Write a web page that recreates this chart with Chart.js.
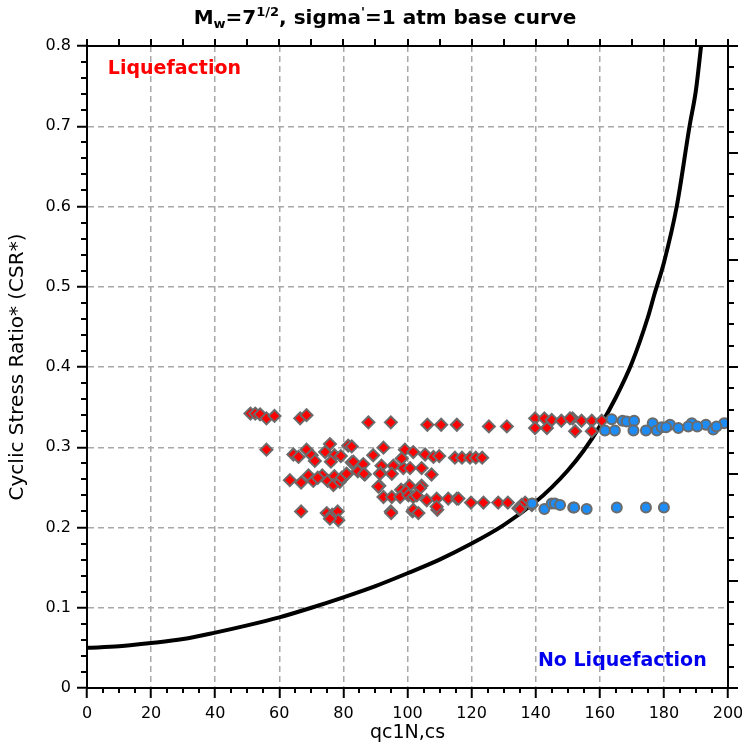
<!DOCTYPE html>
<html>
<head>
<meta charset="utf-8">
<script src="https://cdn.jsdelivr.net/npm/chart.js@4.4.0/dist/chart.umd.min.js"></script>
<style>
  html, body { margin: 0; padding: 0; background: #fff; }
  #wrap { position: relative; width: 742px; height: 744px; }
  #title {
    position: absolute; top: 5px; left: 0; width: 770px; text-align: center;
    font: bold 20px "DejaVu Sans", Verdana, sans-serif; color: #000; line-height: 24px;
  }
  #title sub, #title sup { font-size: 13px; line-height: 0; }
  #title sub { vertical-align: -4px; }
  #title sup { vertical-align: 8px; }
</style>
</head>
<body>
<div id="wrap">
  <canvas id="chart" width="742" height="744"></canvas>
  <div id="title">M<sub>w</sub>=7<sup>1/2</sup>, sigma<sup>'</sup>=1 atm base curve</div>
</div>
<script>
const FONT = '"DejaVu Sans", Verdana, sans-serif';

// base curve
const curveQc  = [0, 10, 20, 30, 40, 50, 60, 70, 80, 90, 100, 110, 120, 130, 140, 145, 150, 155, 160, 165, 170, 175, 177, 180, 184, 188, 190, 191.6];
const curveCsr = [0.050, 0.052, 0.056, 0.061, 0.069, 0.078, 0.088, 0.100, 0.113, 0.127, 0.143, 0.160, 0.180, 0.203, 0.232, 0.250, 0.271, 0.296, 0.326, 0.362, 0.405, 0.462, 0.490, 0.530, 0.600, 0.700, 0.745, 0.800];

// liquefied cases (red diamonds)
const liqQc = [
  51, 52.5, 54, 56, 58.5, 66.5, 68.5, 56,
  64.4, 66, 68.5, 70.1, 71.1, 74.3, 75.8, 77.2, 79.2, 76.1, 81.5, 82.6,
  63.3, 66.8, 69.1, 70.6, 73.4, 75.1, 77.2, 76.9, 78.9, 81, 72, 79.5,
  66.8, 74.8, 76.5, 78.2, 78.4, 75.8,
  87.8, 94.8, 106.2, 110.5, 115.4, 125.4, 131,
  82.6, 92.5, 99.2, 101.8, 105.5, 108.1, 109.9, 114.8, 117, 119.5, 121.3, 123.3,
  83.1, 86.2, 89.3, 91.9, 95.6, 98.7, 100.8, 104.4, 107.5, 86.7, 91.6, 98.2, 84.5,
  81, 86.4, 91.4, 95.1,
  91.2, 100.6, 104.4, 90.9, 103.9, 98, 99.5,
  92.5, 95.1, 97.7, 100.3, 101.8, 102.9, 106, 109.1, 112.7, 115.4, 115.9,
  119.8, 123.7, 128.3, 131.3, 134.6, 136.7, 138.8, 135.6, 135.1,
  94.8, 101.6, 109.3, 109.1, 101.8, 103.4, 94.9,
  139.8, 142.7, 145, 148, 151.5, 154.3, 157.5, 160.6, 150.7,
  139.8, 143.5, 152.3, 157.5
];
const liqCsr = [
  0.342, 0.342, 0.341, 0.336, 0.339, 0.336, 0.340, 0.297,
  0.291, 0.288, 0.297, 0.290, 0.283, 0.294, 0.304, 0.290, 0.289, 0.282, 0.302, 0.281,
  0.259, 0.256, 0.265, 0.258, 0.265, 0.258, 0.264, 0.253, 0.257, 0.266, 0.262, 0.262,
  0.220, 0.218, 0.216, 0.220, 0.209, 0.211,
  0.331, 0.331, 0.328, 0.328, 0.328, 0.326, 0.326,
  0.301, 0.2995, 0.297, 0.294, 0.291, 0.288, 0.289, 0.287, 0.287, 0.287, 0.287, 0.287,
  0.282, 0.279, 0.290, 0.277, 0.277, 0.274, 0.274, 0.274, 0.266, 0.266, 0.268, 0.286, 0.270,
  0.267, 0.267, 0.267, 0.267,
  0.252, 0.252, 0.252, 0.251, 0.249, 0.247, 0.245,
  0.238, 0.238, 0.238, 0.240, 0.238, 0.240, 0.234, 0.236, 0.236, 0.236, 0.236,
  0.231, 0.231, 0.231, 0.231, 0.224, 0.231, 0.228, 0.228, 0.223,
  0.220, 0.220, 0.222, 0.226, 0.222, 0.218, 0.218,
  0.336, 0.336, 0.334, 0.333, 0.336, 0.333, 0.333, 0.333, 0.336,
  0.324, 0.324, 0.320, 0.320
];

// non-liquefied cases (blue circles)
const noLiqQc = [
  163.7, 167.1, 168.4, 170.7, 176.5, 181.9, 188.7, 193.1, 198.8,
  161.6, 164.7, 170.5, 174.4, 177.8, 179.3, 180.7, 184.5, 187.6, 190.4, 195.4, 196.4,
  138.9, 142.7, 145, 146, 147.6, 151.7, 152, 155.9, 165.3, 174.4, 180
];
const noLiqCsr = [
  0.335, 0.333, 0.332, 0.333, 0.330, 0.328, 0.330, 0.328, 0.330,
  0.321, 0.321, 0.321, 0.321, 0.321, 0.325, 0.325, 0.324, 0.326, 0.326, 0.322, 0.326,
  0.230, 0.223, 0.230, 0.230, 0.228, 0.225, 0.225, 0.223, 0.225, 0.225, 0.225
];

const xMin = 0, xMax = 200, xStep = 20, xMinorCount = 40;   // minor every 5
const yMin = 0, yMax = 0.8, yStep = 0.1, yMinorCount = 40;  // minor every 0.02
const topTickCount = 20, rightTickCount = 30;

const labels = [
  { text: "Liquefaction",    x: 6.5,   y: 0.771, color: "#ff0000" },
  { text: "No Liquefaction", x: 140.7, y: 0.034, color: "#0000ee" }
];

const toPts = (xs, ys) => xs.map((x, i) => ({ x: x, y: ys[i] }));

const framePlugin = {
  id: "frame",
  afterDatasetsDraw(chart) {
    const ctx = chart.ctx;
    const xs = chart.scales.x, ys = chart.scales.y;
    ctx.save();
    ctx.font = "bold 19px " + FONT;
    ctx.textBaseline = "middle";
    ctx.textAlign = "left";
    labels.forEach(l => {
      ctx.fillStyle = l.color;
      ctx.fillText(l.text, xs.getPixelForValue(l.x), ys.getPixelForValue(l.y));
    });
    ctx.restore();
  },
  afterDraw(chart) {
    const ctx = chart.ctx;
    const a = chart.chartArea;
    const xs = chart.scales.x, ys = chart.scales.y;
    ctx.save();
    ctx.strokeStyle = "#000";
    ctx.lineWidth = 2;
    ctx.beginPath();
    // minor ticks bottom
    for (let i = 0; i <= xMinorCount; i++) {
      if (i % 4 === 0) continue;
      const px = Math.round(xs.getPixelForValue(xMin + i * (xMax - xMin) / xMinorCount));
      ctx.moveTo(px, a.bottom); ctx.lineTo(px, a.bottom + 5);
    }
    // minor ticks left
    for (let i = 0; i <= yMinorCount; i++) {
      if (i % 5 === 0) continue;
      const py = Math.round(ys.getPixelForValue(yMin + i * (yMax - yMin) / yMinorCount));
      ctx.moveTo(a.left, py); ctx.lineTo(a.left - 6, py);
    }
    // top ticks
    for (let i = 0; i <= topTickCount; i++) {
      const px = Math.round(xs.getPixelForValue(xMin + i * (xMax - xMin) / topTickCount));
      ctx.moveTo(px, a.top); ctx.lineTo(px, a.top - 7);
    }
    // right ticks
    for (let i = 0; i <= rightTickCount; i++) {
      const py = Math.round(ys.getPixelForValue(yMin + i * (yMax - yMin) / rightTickCount));
      ctx.moveTo(a.right, py); ctx.lineTo(a.right + (i % 5 === 0 ? 10 : 6), py);
    }
    ctx.stroke();
    ctx.strokeRect(a.left, a.top, a.right - a.left, a.bottom - a.top);
    ctx.restore();
  }
};

new Chart(document.getElementById("chart"), {
  type: "scatter",
  data: {
    datasets: [
      {
        label: "No Liquefaction",
        data: toPts(noLiqQc, noLiqCsr),
        pointStyle: "circle",
        pointRadius: 5,
        backgroundColor: "#1e8cf5",
        borderColor: "#6b6b6b",
        borderWidth: 2,
        order: 1
      },
      {
        label: "Liquefaction",
        data: toPts(liqQc, liqCsr),
        pointStyle: "rectRot",
        pointRadius: 6,
        backgroundColor: "#ff0000",
        borderColor: "#6b6b6b",
        borderWidth: 2,
        order: 2
      },
      {
        type: "line",
        label: "Base curve",
        data: toPts(curveQc, curveCsr),
        borderColor: "#000",
        borderWidth: 4,
        pointRadius: 0,
        fill: false,
        cubicInterpolationMode: "monotone",
        order: 3
      }
    ]
  },
  options: {
    responsive: false,
    animation: false,
    layout: { padding: { top: 46, right: 14, left: 0, bottom: 0 } },
    plugins: { legend: { display: false }, tooltip: { enabled: false } },
    scales: {
      x: {
        type: "linear", min: xMin, max: xMax,
        ticks: { stepSize: xStep, color: "#000", font: { family: FONT, size: 16 }, padding: 6, maxRotation: 0 },
        grid: { color: "#a8a8a8", lineWidth: 1.5, tickColor: "#000", tickWidth: 2, tickLength: 10 },
        border: { color: "#000", width: 2, dash: [6, 4] },
        title: { display: true, text: "qc1N,cs", color: "#000", font: { family: FONT, size: 19 }, padding: { top: 0, bottom: 0 } },
        afterFit(s) { s.height = 56; s.paddingLeft = 0; s.paddingRight = 0; }
      },
      y: {
        type: "linear", min: yMin, max: yMax,
        ticks: {
          stepSize: yStep, color: "#000", font: { family: FONT, size: 16 }, padding: 6,
          callback: v => String(Math.round(v * 10) / 10)
        },
        grid: { color: "#a8a8a8", lineWidth: 1.5, tickColor: "#000", tickWidth: 2, tickLength: 10 },
        border: { color: "#000", width: 2, dash: [6, 4] },
        title: { display: true, text: "Cyclic Stress Ratio* (CSR*)", color: "#000", font: { family: FONT, size: 20 }, padding: { top: 6, bottom: 0 } },
        afterFit(s) { s.width = 87; s.paddingTop = 0; s.paddingBottom = 0; }
      }
    }
  },
  plugins: [framePlugin]
});
</script>
</body>
</html>
